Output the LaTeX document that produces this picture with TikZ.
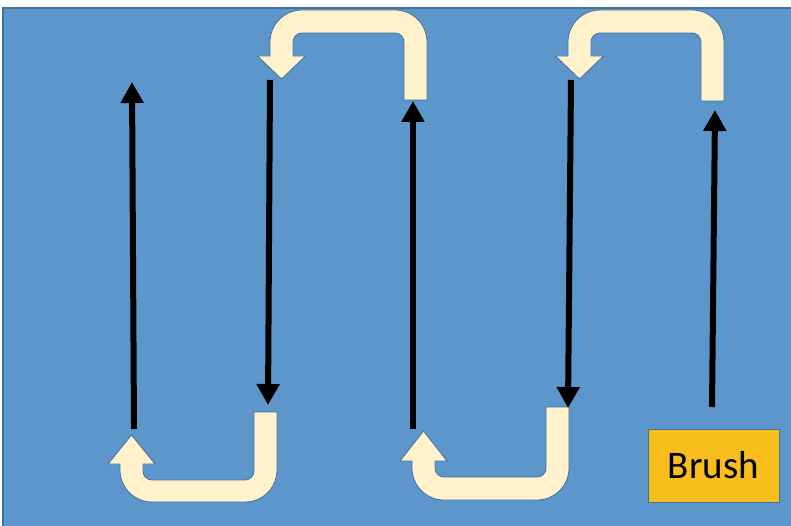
\documentclass[tikz,border=0pt]{standalone}
\usepackage{fontspec}
\setmainfont{Carlito}
\usetikzlibrary{arrows.meta}
\definecolor{bgblue}{RGB}{92,150,203}
\definecolor{edgeblue}{RGB}{65,113,156}
\definecolor{cream}{RGB}{255,242,204}
\definecolor{brushgold}{RGB}{250,190,28}
\tikzset{
  uturn/.style={fill=cream, draw=edgeblue, line width=0.8pt, line join=round},
  blackarrow/.style={line width=6pt, -{Triangle[width=22pt,length=21pt]}},
  brushbox/.style={draw=edgeblue, line width=1pt, fill=brushgold, minimum width=131pt, minimum height=73pt, inner sep=0pt, font=\fontsize{39}{39}\selectfont}
}
\begin{document}
\begin{tikzpicture}[x=1pt,y=-1pt]
\useasboundingbox (0,0) rectangle (791,526);
\fill[white] (0,0) rectangle (791,526);
\draw[fill=bgblue, draw=edgeblue, line width=2pt] (3,8) rectangle (800,535);

% top-left U-turn
\path[uturn] (404,100) -- (427,100) -- (427,42) arc[start angle=0,end angle=-90,radius=32]
  -- (302,10) arc[start angle=-90,end angle=-180,radius=32]
  -- (270,56) -- (257.5,56) -- (281.5,79) -- (305.5,56) -- (293,56) -- (293,42)
  arc[start angle=180,end angle=270,radius=9] -- (395,33)
  arc[start angle=270,end angle=360,radius=9] -- cycle;
% top-right U-turn
\path[uturn] (701,101) -- (724,101) -- (724,42) arc[start angle=0,end angle=-90,radius=32]
  -- (600,10) arc[start angle=-90,end angle=-180,radius=32]
  -- (568,56) -- (555.5,56) -- (579.5,79) -- (603.5,56) -- (591,56) -- (591,42)
  arc[start angle=180,end angle=270,radius=9] -- (692,33)
  arc[start angle=270,end angle=360,radius=9] -- cycle;
% bottom-left U-turn
\path[uturn] (254,412) -- (277,412) -- (277,470) arc[start angle=0,end angle=90,radius=32]
  -- (152,502) arc[start angle=90,end angle=180,radius=32]
  -- (120,464) -- (108,464) -- (131.5,435) -- (155,464) -- (143,464) -- (143,471)
  arc[start angle=180,end angle=90,radius=9] -- (245,480)
  arc[start angle=90,end angle=0,radius=9] -- cycle;
% bottom-right U-turn
\path[uturn] (546,407) -- (569,407) -- (569,468) arc[start angle=0,end angle=90,radius=32]
  -- (444,500) arc[start angle=90,end angle=180,radius=32]
  -- (412,461) -- (400,461) -- (423.5,431) -- (447,461) -- (435,461) -- (435,468)
  arc[start angle=180,end angle=90,radius=9] -- (537,477)
  arc[start angle=90,end angle=0,radius=9] -- cycle;

% black strokes
\coordinate (a1s) at (134,429); \coordinate (a1e) at (132,82);
\coordinate (a2s) at (270,80);  \coordinate (a2e) at (268,405);
\coordinate (a3s) at (413,429); \coordinate (a3e) at (413,101);
\coordinate (a4s) at (571,80);  \coordinate (a4e) at (568,408);
\coordinate (a5s) at (712,407); \coordinate (a5e) at (715,110);
\draw[blackarrow] (a1s) -- (a1e);
\draw[blackarrow] (a2s) -- (a2e);
\draw[blackarrow] (a3s) -- (a3e);
\draw[blackarrow] (a4s) -- (a4e);
\draw[blackarrow] (a5s) -- (a5e);

\node[brushbox] (brush) at (713.5,465.5) {Brush};
\end{tikzpicture}
\end{document}
